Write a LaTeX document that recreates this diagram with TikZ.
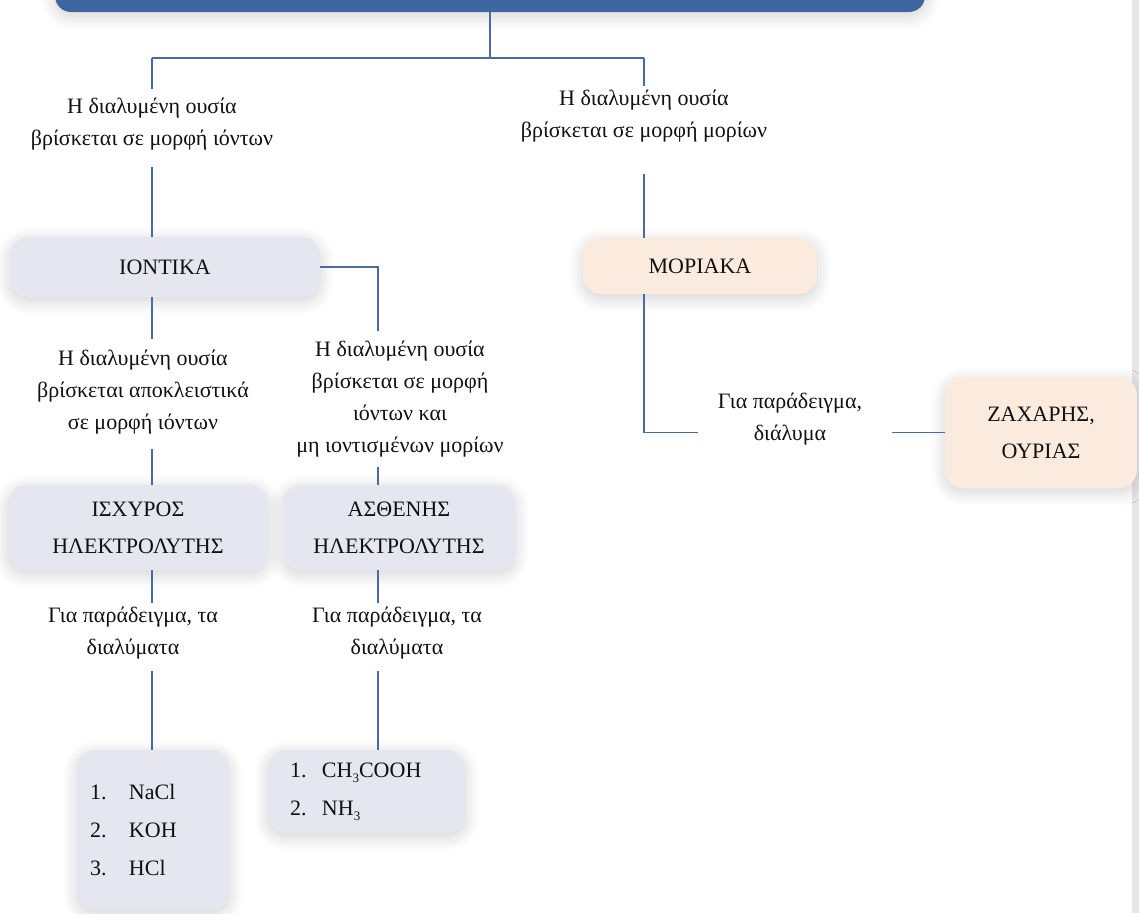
\documentclass[tikz,border=0pt]{standalone}
\usepackage{fontspec}
\setmainfont{Liberation Serif}
\usetikzlibrary{shadows.blur,calc}

\definecolor{topblue}{HTML}{3E66A1}
\definecolor{linkblue}{HTML}{4A6AA6}
\definecolor{lavender}{HTML}{E6E6F0}
\definecolor{peach}{HTML}{FBEBDE}
\definecolor{stripgray}{HTML}{E8E4EA}
\definecolor{ink}{HTML}{111111}

% small lowered index for chemical formulas
\newcommand\chemidx[1]{\raisebox{-0.45ex}{\fontsize{13}{13}\selectfont #1}}

\begin{document}
\begin{tikzpicture}[x=1pt,y=-1pt,
  conn/.style={draw=linkblue,line width=1.2pt},
  note/.style={align=center,inner sep=0pt,text=ink,font=\fontsize{22}{32}\selectfont},
  softshadow/.style={blur shadow={shadow xshift=0pt,shadow yshift=-4pt,shadow blur radius=14pt,shadow blur steps=16,shadow opacity=18}},
  card/.style={rounded corners=18pt,softshadow,inner sep=0pt,text=ink,align=center,font=\fontsize{22}{37}\selectfont},
  ioncard/.style={card,fill=lavender},
  molcard/.style={card,fill=peach},
  listcard/.style={card,fill=lavender,align=left,font=\fontsize{22}{38}\selectfont},
]
\useasboundingbox (0,0) rectangle (1139,913);

% page edge strip
\fill[stripgray] (1132,0) rectangle (1139,913);

% title bar
\node[fill=topblue,rounded corners=16pt,minimum width=870pt,minimum height=60pt,inner sep=0pt,softshadow] (top) at (490,-18) {};

% boxes
\node[ioncard,minimum width=310pt,minimum height=60pt] (ion) at (165,267) {ΙΟΝΤΙΚΑ};
\node[molcard,minimum width=234pt,minimum height=56pt] (mol) at (700,266) {ΜΟΡΙΑΚΑ};
\node[ioncard,minimum width=260pt,minimum height=85pt] (strong) at (138,527.5) {ΙΣΧΥΡΟΣ\\ΗΛΕΚΤΡΟΛΥΤΗΣ};
\node[ioncard,minimum width=232pt,minimum height=85pt] (weak) at (399,527.5) {ΑΣΘΕΝΗΣ\\ΗΛΕΚΤΡΟΛΥΤΗΣ};
\node[molcard,minimum width=192pt,minimum height=111pt] (sugar) at (1041,432.5) {ΖΑΧΑΡΗΣ,\\ΟΥΡΙΑΣ};
\node[listcard,minimum width=152pt,minimum height=160pt,text width=126pt] (saltlist) at (153,830)
  {\makebox[39pt][l]{1.}NaCl\\\makebox[39pt][l]{2.}KOH\\\makebox[39pt][l]{3.}HCl};
\node[listcard,minimum width=197pt,minimum height=83pt,text width=153pt] (weaklist) at (366.5,791.5)
  {\makebox[32pt][l]{1.}CH\chemidx{3}COOH\\\makebox[32pt][l]{2.}NH\chemidx{3}};

% labels
\node[note] (l1) at (152,124) {Η διαλυμένη ουσία\\βρίσκεται σε μορφή ιόντων};
\node[note] (r1) at (644,116) {Η διαλυμένη ουσία\\βρίσκεται σε μορφή μορίων};
\node[note] (l2) at (143,392) {Η διαλυμένη ουσία\\βρίσκεται αποκλειστικά\\σε μορφή ιόντων};
\node[note] (r2) at (400,399) {Η διαλυμένη ουσία\\βρίσκεται σε μορφή\\ιόντων και\\μη ιοντισμένων μορίων};
\node[note] (l3) at (133,633) {Για παράδειγμα, τα\\διαλύματα};
\node[note] (r3) at (397,633) {Για παράδειγμα, τα\\διαλύματα};
\node[note] (m3) at (790,419) {Για παράδειγμα,\\διάλυμα};

% junctions
\coordinate (j) at (490,58);
\coordinate (jl) at (152,58);
\coordinate (jr) at (644,58);
\coordinate (sl) at (152,0);
\coordinate (sr) at (378,0);

% connectors
\draw[conn] (top.south) -- (j);
\draw[conn] (jl) -- (jr);
\draw[conn] (jl) -- ([yshift=9pt]l1.north -| jl);
\draw[conn] ([yshift=-17pt]l1.south -| jl) -- (ion.north -| jl);
\draw[conn] (jr) -- ([yshift=4pt]r1.north -| jr);
\draw[conn] ([yshift=-32pt]r1.south -| jr) -- (mol.north -| jr);

\draw[conn] (ion.south -| sl) -- ([yshift=11pt]l2.north -| sl);
\draw[conn] ([yshift=-15pt]l2.south -| sl) -- (strong.north -| sl);
\draw[conn] (ion.east) -| ([yshift=10pt]r2.north -| sr);
\draw[conn] ([yshift=-10pt]r2.south -| sr) -- (weak.north -| sr);

\draw[conn] (strong.south -| sl) -- ([yshift=4pt]l3.north -| sl);
\draw[conn] ([yshift=-12pt]l3.south -| sl) -- (saltlist.north -| sl);
\draw[conn] (weak.south -| sr) -- ([yshift=4pt]r3.north -| sr);
\draw[conn] ([yshift=-12pt]r3.south -| sr) -- (weaklist.north -| sr);

\draw[conn] (mol.south -| jr) |- ([xshift=-20pt]m3.west |- sugar.west);
\draw[conn] ([xshift=30pt]m3.east |- sugar.west) -- (sugar.west);
\end{tikzpicture}
\end{document}
